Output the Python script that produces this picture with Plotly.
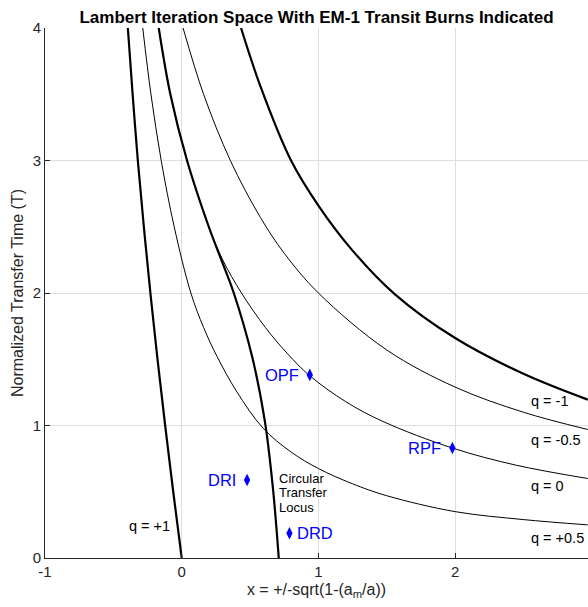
import plotly.graph_objects as go

# ---- data ----
q_p1_x = [-0.394, -0.359, -0.321, -0.277, -0.229, -0.177, -0.121, -0.062, 0.0]
q_p1_y = [4.0, 3.5, 3.0, 2.5, 2.0, 1.5, 1.0, 0.5, 0.0]

q_p05_x = [-0.285, -0.225, -0.150, -0.055, 0.067, 0.16, 0.259, 0.40, 0.595, 0.80, 1.0, 1.25, 1.5, 2.0, 2.5, 2.97]
q_p05_y = [4.0, 3.5, 3.0, 2.5, 2.0, 1.74, 1.52, 1.26, 0.98, 0.80, 0.675, 0.56, 0.47, 0.35, 0.29, 0.25]

q_0_x = [-0.168, -0.083, 0.039, 0.198, 0.30, 0.437, 0.612, 0.771, 0.937, 1.2, 1.473, 1.98, 2.448, 2.97]
q_0_y = [4.0, 3.5, 3.0, 2.5, 2.25, 2.0, 1.74, 1.545, 1.375, 1.18, 1.03, 0.83, 0.70, 0.60]

q_m05_x = [0.010, 0.16, 0.356, 0.576, 0.75, 1.0, 1.5, 2.0, 2.5, 2.97]
q_m05_y = [4.0, 3.5, 3.0, 2.57, 2.30, 2.00, 1.57, 1.29, 1.10, 0.97]

q_m1_x = [0.434, 0.576, 0.80, 1.0, 1.25, 1.56, 2.0, 2.5, 2.97]
q_m1_y = [4.0, 3.56, 3.0, 2.66, 2.32, 1.99, 1.66, 1.39, 1.195]

locus_x = [-0.168, -0.083, 0.039, 0.198, 0.29, 0.381, 0.515, 0.607, 0.666, 0.71]
locus_y = [4.0, 3.5, 3.0, 2.5, 2.25, 2.0, 1.52, 1.04, 0.54, 0.0]

burn_names = ["OPF", "RPF", "DRI", "DRD"]
burn_x = [0.937, 1.98, 0.478, 0.788]
burn_y = [1.382, 0.83, 0.589, 0.187]

q_labels = ["q = -1", "q = -0.5", "q = 0", "q = +0.5", "q = +1"]
q_label_x = [2.544, 2.544, 2.544, 2.544, -0.397]
q_label_y = [1.182, 0.891, 0.544, 0.149, 0.242]

locus_lines = ["Circular", "Transfer", "Locus"]
locus_label_x = 0.707
locus_label_y = [0.600, 0.491, 0.381]

x_ticks = [-1, 0, 1, 2]
y_ticks = [0, 1, 2, 3, 4]

FONT = "Liberation Sans, Arial, Helvetica, sans-serif"
AXC = "#262626"

fig = go.Figure()

def curve(x, y, w):
    fig.add_trace(go.Scatter(x=x, y=y, mode="lines",
                             line=dict(color="black", width=w, shape="spline", smoothing=1.0),
                             showlegend=False, hoverinfo="skip"))

curve(q_p05_x, q_p05_y, 1.0)
curve(q_0_x, q_0_y, 1.0)
curve(q_m05_x, q_m05_y, 1.0)
curve(q_p1_x, q_p1_y, 2.2)
curve(q_m1_x, q_m1_y, 2.2)
curve(locus_x, locus_y, 2.2)

fig.add_trace(go.Scatter(x=burn_x, y=burn_y, mode="markers",
                         marker=dict(symbol="diamond-tall", size=9, color="blue",
                                     line=dict(width=0)),
                         showlegend=False, hoverinfo="skip"))

ann = []
anchors = ["right", "right", "right", "left"]
offs = [-9, -9, -9, 6]
for n, x, y, a, o in zip(burn_names, burn_x, burn_y, anchors, offs):
    ann.append(dict(x=x, y=y, text=n, showarrow=False, xanchor=a, yanchor="middle",
                    xshift=o, font=dict(family=FONT, size=16.5, color="blue")))
for t, x, y in zip(q_labels, q_label_x, q_label_y):
    ann.append(dict(x=x, y=y, text=t, showarrow=False, xanchor="left", yanchor="middle",
                    font=dict(family=FONT, size=14.5, color="black")))
for t, y in zip(locus_lines, locus_label_y):
    ann.append(dict(x=locus_label_x, y=y, text=t, showarrow=False, xanchor="left", yanchor="middle",
                    borderpad=0, font=dict(family=FONT, size=13, color="black")))

fig.update_layout(
    width=588, height=607,
    margin=dict(l=45, r=0, t=28, b=49, autoexpand=False),
    paper_bgcolor="white", plot_bgcolor="white",
    title=dict(text="<b>Lambert Iteration Space With EM-1 Transit Burns Indicated</b>",
               x=316.5 / 588, xanchor="center", xref="container",
               y=1 - 17 / 607, yanchor="middle", yref="container",
               font=dict(family=FONT, size=17, color="black")),
    annotations=ann,
    font=dict(family=FONT, color=AXC),
)
fig.update_xaxes(range=[-1, 2.972], tickvals=x_ticks, ticktext=[str(v) for v in x_ticks],
                 ticks="inside", ticklen=5, tickcolor=AXC, showline=True, linecolor=AXC,
                 linewidth=1, showgrid=True, gridcolor="#dedede", gridwidth=1, zeroline=False,
                 automargin=False,
                 tickfont=dict(family=FONT, size=15, color=AXC),
                 title=dict(text="x = +/-sqrt(1-(a<sub>m</sub>/a))", standoff=4,
                            font=dict(family=FONT, size=16, color=AXC)))
fig.update_yaxes(range=[0, 4], tickvals=y_ticks, ticktext=[str(v) for v in y_ticks],
                 ticks="inside", ticklen=5, tickcolor=AXC, showline=True, linecolor=AXC,
                 linewidth=1, showgrid=True, gridcolor="#dedede", gridwidth=1, zeroline=False,
                 automargin=False,
                 tickfont=dict(family=FONT, size=15, color=AXC),
                 title=dict(text="Normalized Transfer Time (T)", standoff=5,
                            font=dict(family=FONT, size=16, color=AXC)))

fig.write_html("out.html", config={"displayModeBar": False},
               post_script="document.body.style.margin='0';document.body.style.overflow='hidden';")
